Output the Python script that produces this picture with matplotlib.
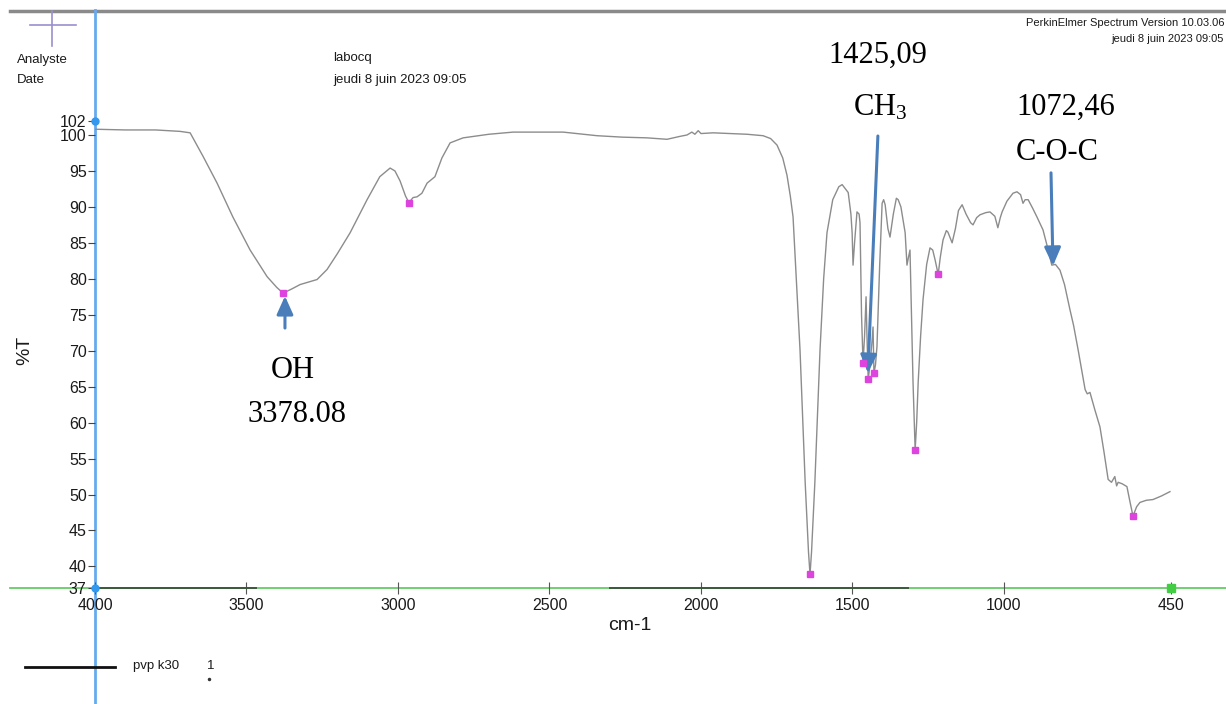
import matplotlib
matplotlib.use('Agg')
import matplotlib.pyplot as plt
import numpy as np

plt.rcParams['mathtext.fontset'] = 'custom'
plt.rcParams['mathtext.rm'] = 'Liberation Serif'
plt.rcParams['mathtext.it'] = 'Liberation Serif'

# spectrum (wavenumber cm-1, %T)
wavenumber = [4000, 3900, 3800, 3719, 3686, 3643, 3597, 3545, 3488, 3432, 3400, 3379, 3350, 3323,
              3267, 3234, 3200, 3158, 3102, 3060, 3026, 3010, 2993, 2975, 2964, 2950, 2937, 2921,
              2904, 2878, 2855, 2828, 2785, 2700, 2620, 2455, 2343, 2260, 2178, 2112, 2070, 2046,
              2030, 2020, 2009, 2000, 1960, 1848, 1795, 1770, 1749, 1730, 1716, 1705, 1696, 1673,
              1656, 1645, 1640, 1635, 1624, 1607, 1595, 1584, 1565, 1545, 1534, 1514, 1505, 1501,
              1498, 1493, 1485, 1478, 1475, 1470, 1465, 1460, 1455, 1452, 1448, 1442, 1436, 1432,
              1429, 1424, 1419, 1410, 1402, 1397, 1392, 1383, 1376, 1365, 1355, 1349, 1340, 1326,
              1320, 1315, 1310, 1305, 1300, 1293, 1288, 1283, 1275, 1267, 1255, 1244, 1235, 1227,
              1217, 1210, 1201, 1190, 1185, 1171, 1160, 1150, 1138, 1125, 1110, 1102, 1090, 1079,
              1060, 1046, 1030, 1020, 1012, 1006, 990, 970, 957, 945, 937, 930, 920, 905, 891, 871,
              855, 842, 830, 815, 800, 782, 770, 755, 740, 732, 725, 716, 700, 683, 670, 656, 645,
              634, 628, 623, 610, 594, 584, 574, 562, 551, 530, 508, 480, 452]
transmittance = [100.8, 100.7, 100.7, 100.5, 100.3, 97.0, 93.3, 88.6, 84.0, 80.3, 78.8, 78.0, 78.6, 79.2,
                 79.9, 81.3, 83.5, 86.4, 91.0, 94.2, 95.4, 95.0, 93.6, 91.5, 90.6, 91.3, 91.4, 91.9,
                 93.3, 94.2, 96.8, 98.9, 99.6, 100.1, 100.4, 100.4, 99.9, 99.7, 99.6, 99.4, 99.8, 100.0,
                 100.4, 100.1, 100.6, 100.2, 100.3, 100.1, 99.9, 99.5, 98.6, 96.8, 94.4, 91.5, 88.6, 70.1,
                 51.7, 42.0, 38.9, 42.0, 51.7, 70.1, 80.0, 86.4, 91.0, 92.8, 93.1, 92.0, 89.0, 86.4,
                 81.9, 85.0, 89.3, 89.0, 87.8, 75.0, 68.3, 72.0, 77.5, 72.0, 66.0, 68.0, 71.0, 73.3,
                 66.9, 68.0, 70.6, 82.0, 90.5, 91.0, 90.3, 87.0, 85.8, 89.0, 91.2, 91.0, 90.0, 86.4,
                 81.9, 83.0, 84.0, 75.0, 65.6, 56.2, 60.0, 65.6, 72.0, 77.1, 82.0, 84.3, 84.0, 82.6,
                 80.6, 83.0, 85.4, 86.7, 86.5, 85.0, 87.0, 89.5, 90.3, 89.0, 87.8, 87.5, 88.5, 88.9,
                 89.2, 89.3, 88.7, 87.1, 88.5, 89.3, 90.8, 91.9, 92.1, 91.7, 90.5, 91.0, 91.0, 89.8, 88.6, 86.8,
                 84.2, 81.9, 82.0, 81.2, 79.2, 75.7, 73.5, 70.1, 66.5, 64.6, 64.0, 64.2, 61.8, 59.4, 56.0, 52.1, 51.7,
                 52.5, 51.2, 51.7, 51.5, 51.1, 49.0, 47.0, 48.3, 48.9, 49.2, 49.3, 49.8, 50.4]

# picked peaks (magenta squares)
peak_wn = [3379, 2964, 1640, 1465, 1448, 1429, 1293, 1217, 574]
peak_T = [78.0, 90.6, 38.9, 68.3, 66.0, 66.9, 56.2, 80.6, 47.0]

y_ticks = [37, 40, 45, 50, 55, 60, 65, 70, 75, 80, 85, 90, 95, 100, 102]
x_ticks = [4000, 3500, 3000, 2500, 2000, 1500, 1000, 450]

W, H = 1226, 704
fig = plt.figure(figsize=(W / 100, H / 100), dpi=100)
fig.patch.set_facecolor('white')

x0, x1, ybot, ytop = 95, 1226, 588, 120.6
ax = fig.add_axes([x0 / W, (H - ybot) / H, (x1 - x0) / W, (ybot - ytop) / H])
ax.set_facecolor('none')
ax.set_xlim(4000, 267)
ax.set_ylim(37, 102)
for s in ax.spines.values():
    s.set_visible(False)

ax.plot(wavenumber, transmittance, color='#8c8c8c', lw=1.0, zorder=3)
ax.plot(peak_wn, peak_T, ls='none', marker='s', ms=5, color='#dd44dd', zorder=4)

lab_font = 'Liberation Sans'
ax.set_yticks(y_ticks)
ax.set_yticklabels([str(v) for v in y_ticks], fontsize=11.5, family=lab_font, color='#1a1a1a')
ax.set_xticks(x_ticks)
ax.set_xticklabels([str(v) for v in x_ticks], fontsize=11.5, family=lab_font, color='#1a1a1a')
ax.tick_params(axis='y', direction='out', length=5, width=0.8, color='#444444', pad=1)
ax.tick_params(axis='x', direction='inout', length=8, width=0.8, color='#555555', pad=3)

# baseline dark segments
ax.plot([4000, 3470], [37, 37], color='#3a5a3a', lw=1.4, zorder=2, clip_on=False)
ax.plot([2300, 1316], [37, 37], color='#3a5a3a', lw=1.4, zorder=2, clip_on=False)
ax.plot([450], [37], marker='s', ms=6, color='#44cc44', ls='none', clip_on=False, zorder=5)
ax.plot([4000, 4000], [37, 102], ls='none', marker='o', ms=5, color='#3399ee', clip_on=False, zorder=5)

# arrows pointing at bands
arrow_kw = dict(arrowstyle='-|>,head_width=0.45,head_length=1.0', color='#4a7ebb', lw=2.2,
                shrinkA=0, shrinkB=0, mutation_scale=11)
ax.annotate('', xy=(3373, 77.6), xytext=(0, -32), textcoords='offset pixels', arrowprops=arrow_kw)
ax.annotate('', xy=(1449, 66.9), xytext=(10, 237), textcoords='offset pixels', arrowprops=arrow_kw)
ax.annotate('', xy=(838, 81.8), xytext=(-2, 93), textcoords='offset pixels', arrowprops=arrow_kw)

# overlay in pixel coordinates for frame lines and header texts
ov = fig.add_axes([0, 0, 1, 1], zorder=-1)
ov.set_xlim(0, W)
ov.set_ylim(H, 0)
ov.axis('off')
ov.patch.set_visible(False)

ov.plot([10, W], [11, 11], color='#8a8a8a', lw=2.5)
ov.plot([10, W], [588, 588], color='#66cc66', lw=1.3)
ov.plot([95, 95], [10, H], color='#66aaee', lw=2)
ov.plot([30, 76], [25, 25], color='#9a8fd0', lw=1.2)
ov.plot([52, 52], [11, 46], color='#9a8fd0', lw=1.2)

hdr = dict(family=lab_font, fontsize=9.5, color='#1a1a1a', va='center')
ov.text(17, 60, 'Analyste', ha='left', **hdr)
ov.text(17, 80, 'Date', ha='left', **hdr)
ov.text(333, 58, 'labocq', ha='left', **hdr)
ov.text(333, 80, 'jeudi 8 juin 2023 09:05', ha='left', **hdr)
ov.text(1224, 23, 'PerkinElmer Spectrum Version 10.03.06', ha='right', family=lab_font,
        fontsize=8, color='#1a1a1a', va='center')
ov.text(1224, 39, 'jeudi 8 juin 2023 09:05', ha='right', family=lab_font,
        fontsize=8, color='#1a1a1a', va='center')

ov.text(25, 350, '%T', rotation=90, ha='center', va='center', family=lab_font, fontsize=14, color='#1a1a1a')
ov.text(630, 625, 'cm-1', ha='center', va='center', family=lab_font, fontsize=14, color='#1a1a1a')

ov.plot([25, 115], [667, 667], color='#111111', lw=2)
ov.text(133, 666, 'pvp k30', ha='left', **hdr)
ov.text(207, 666, '1', ha='left', **hdr)
ov.plot([209], [679], marker='o', ms=1.5, color='#333333')

ser = dict(family='Liberation Serif', fontsize=22, color='black', ha='center', va='center')
ov.text(293, 370, 'OH', **ser)
ov.text(297, 414, '3378.08', **ser)
ov.text(878, 55, '1425,09', **ser)
ov.text(880, 108, 'CH$_3$', **ser)
ov.text(1066, 107, '1072,46', **ser)
ov.text(1057, 152, 'C-O-C', **ser)

fig.savefig('out.png', dpi=100, facecolor='white')
